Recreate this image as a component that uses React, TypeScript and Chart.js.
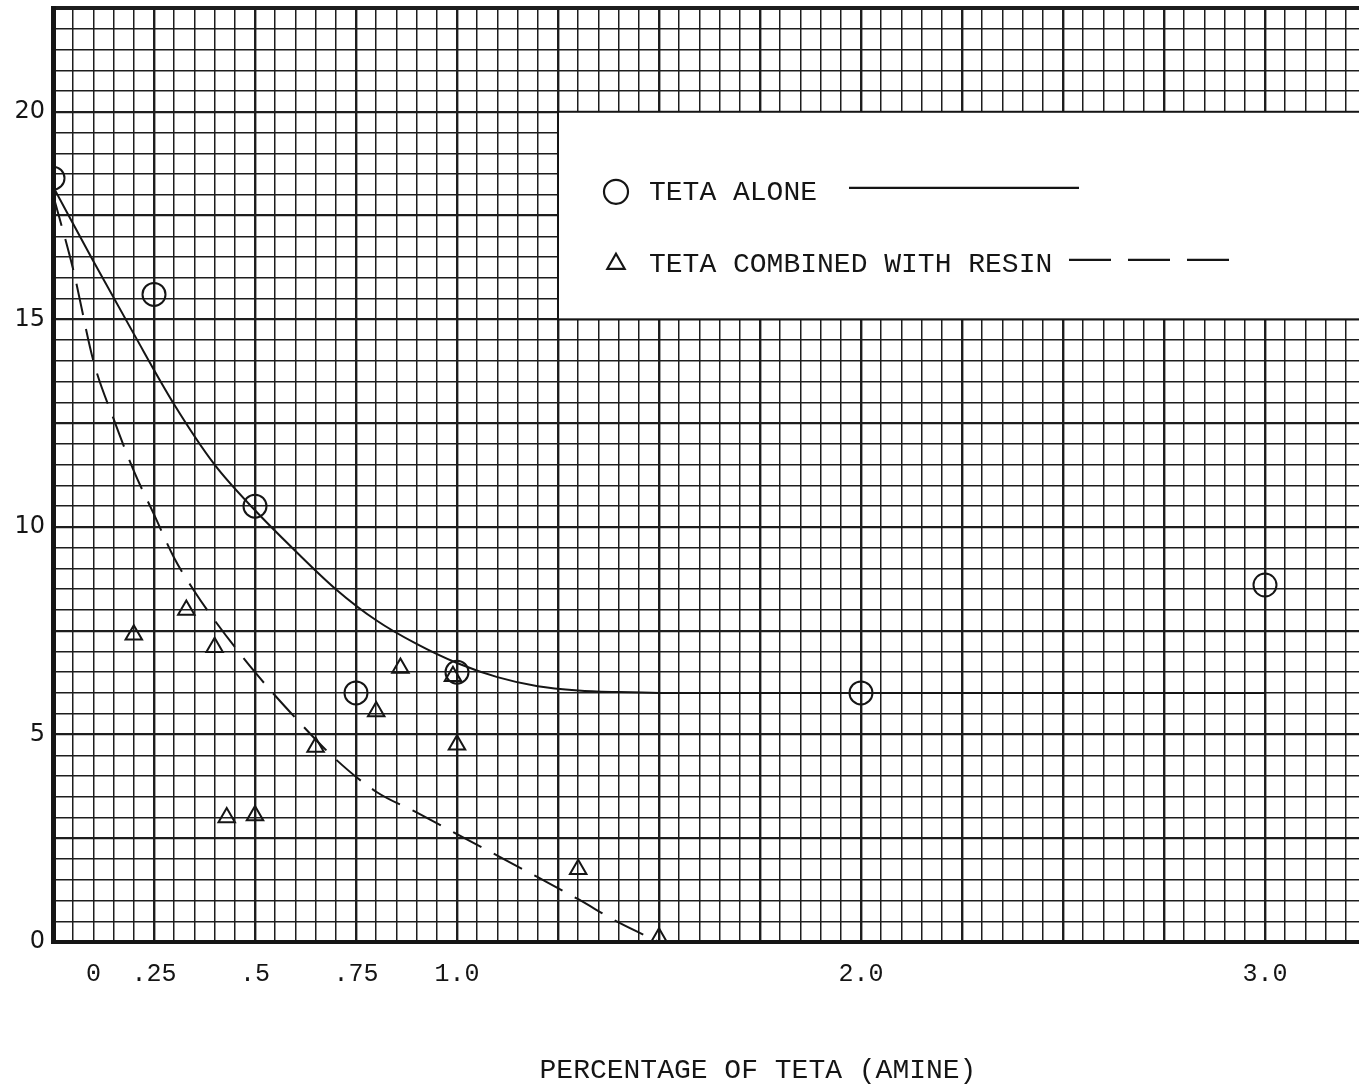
import React, { useEffect, useRef } from 'react';
import { Chart, registerables } from 'chart.js';

Chart.register(...registerables);

// ---------------- data ----------------
const SERIES_NAMES = ['TETA ALONE', 'TETA COMBINED WITH RESIN'];
const AXIS_TITLE = 'PERCENTAGE OF TETA (AMINE)';

// measured points: TETA alone (circles)
const aloneX = [0, 0.25, 0.5, 0.75, 1.0, 2.0, 3.0];
const aloneY = [18.4, 15.6, 10.5, 6.0, 6.5, 6.0, 8.6];

// measured points: TETA combined with resin (triangles)
const resinX = [0.2, 0.33, 0.4, 0.43, 0.5, 0.65, 0.8, 0.86, 0.99, 1.0, 1.3, 1.5];
const resinY = [7.4, 8.0, 7.1, 3.0, 3.05, 4.7, 5.55, 6.6, 6.4, 4.75, 1.75, 0.1];

// hand-drawn fitted curve: TETA alone (solid)
const aloneCurveX = [0, 0.1, 0.2, 0.3, 0.4, 0.5, 0.6, 0.7, 0.8, 0.9, 1.0, 1.1, 1.2, 1.3, 1.4, 1.5, 3.0];
const aloneCurveY = [18.2, 16.4, 14.65, 12.95, 11.5, 10.4, 9.42, 8.5, 7.75, 7.18, 6.72, 6.38, 6.16, 6.06, 6.02, 6.0, 6.0];

// hand-drawn fitted curve: TETA with resin (dashed)
const resinCurveX = [0, 0.05, 0.1, 0.15, 0.2, 0.25, 0.3, 0.35, 0.4, 0.5, 0.6, 0.7, 0.8, 0.9, 1.0, 1.1, 1.2, 1.3, 1.4, 1.5];
const resinCurveY = [18.0, 16.2, 14.0, 12.6, 11.35, 10.3, 9.25, 8.45, 7.75, 6.5, 5.4, 4.4, 3.62, 3.12, 2.6, 2.08, 1.56, 1.03, 0.47, 0.0];

// axis tick labels
const xTickValues = [0.1, 0.25, 0.5, 0.75, 1, 2, 3];
const xTickLabels = ['0', '.25', '.5', '.75', '1.0', '2.0', '3.0'];
const yTickValues = [0, 5, 10, 15, 20];
const yTickLabels = ['0', '5', '10', '15', '20'];

// ---------------- layout constants ----------------
const W = 1359;
const H = 1089;
const X_MAX = 3.2327;
const Y_MAX = 22.5;
const INK = '#151515';
const MONO = '"Liberation Mono", "DejaVu Sans Mono", monospace';

const near = (a: number, b: number) => Math.abs(a - b) < 1e-6;
const isMultiple = (v: number, step: number) => {
  const q = v / step;
  return Math.abs(q - Math.round(q)) < 1e-6;
};

const toXY = (xs: number[], ys: number[]) => xs.map((x, i) => ({ x, y: ys[i] }));

const zeroPad = (s: any) => {
  s.paddingTop = 0;
  s.paddingBottom = 0;
  s.paddingLeft = 0;
  s.paddingRight = 0;
};

const paperPlugin = {
  id: 'paperExtras',
  afterDatasetsDraw(chart: any) {
    const { ctx } = chart;
    const xs = chart.scales.x;
    const ys = chart.scales.y;
    const left = xs.getPixelForValue(1.25);
    const top = ys.getPixelForValue(20);
    const bottom = ys.getPixelForValue(15);
    const right = chart.width + 10;
    ctx.save();
    // legend box
    ctx.fillStyle = '#ffffff';
    ctx.fillRect(left, top, right - left, bottom - top);
    ctx.strokeStyle = INK;
    ctx.lineWidth = 2;
    ctx.strokeRect(left, top, right - left, bottom - top);

    const rows = [
      { dy: 80, marker: 'circle', lineFrom: 291, lineTo: 521, dash: [] as number[] },
      { dy: 152, marker: 'triangle', lineFrom: 511, lineTo: 683, dash: [42, 17] },
    ];
    ctx.font = `28px ${MONO}`;
    ctx.textBaseline = 'middle';
    ctx.textAlign = 'left';
    rows.forEach((r, i) => {
      const cy = top + r.dy;
      const mx = left + 58;
      ctx.strokeStyle = INK;
      ctx.lineWidth = 2.2;
      ctx.setLineDash([]);
      ctx.beginPath();
      if (r.marker === 'circle') {
        ctx.arc(mx, cy, 12, 0, Math.PI * 2);
      } else {
        const rr = 10;
        ctx.moveTo(mx, cy - rr);
        ctx.lineTo(mx + rr * 0.866, cy + rr / 2);
        ctx.lineTo(mx - rr * 0.866, cy + rr / 2);
        ctx.closePath();
      }
      ctx.stroke();
      ctx.fillStyle = INK;
      ctx.fillText(SERIES_NAMES[i], left + 91, cy + 1);
      ctx.lineWidth = 2.2;
      ctx.setLineDash(r.dash);
      ctx.beginPath();
      ctx.moveTo(left + r.lineFrom, cy - 4);
      ctx.lineTo(left + r.lineTo, cy - 4);
      ctx.stroke();
    });
    ctx.setLineDash([]);

    // axis title
    ctx.font = `28px ${MONO}`;
    ctx.textAlign = 'center';
    ctx.textBaseline = 'middle';
    ctx.fillStyle = INK;
    ctx.fillText(AXIS_TITLE, xs.getPixelForValue(1.745), 1071);
    ctx.restore();
  },
};

export default function App() {
  const ref = useRef<HTMLCanvasElement>(null);

  useEffect(() => {
    document.body.style.margin = '0';
    const canvas = ref.current;
    if (!canvas) return;
    const chart = new Chart(canvas, {
      type: 'scatter',
      data: {
        datasets: [
          {
            label: SERIES_NAMES[0] + ' curve',
            data: toXY(aloneCurveX, aloneCurveY),
            showLine: true,
            borderColor: INK,
            borderWidth: 2,
            pointRadius: 0,
            cubicInterpolationMode: 'monotone',
          },
          {
            label: SERIES_NAMES[1] + ' curve',
            data: toXY(resinCurveX, resinCurveY),
            showLine: true,
            borderColor: INK,
            borderWidth: 2,
            borderDash: [32, 14],
            pointRadius: 0,
            cubicInterpolationMode: 'monotone',
          },
          {
            label: SERIES_NAMES[0],
            data: toXY(aloneX, aloneY),
            showLine: false,
            clip: 0,
            pointStyle: 'circle',
            pointRadius: 11.5,
            pointBorderWidth: 2,
            pointBorderColor: INK,
            pointBackgroundColor: 'rgba(0,0,0,0)',
          },
          {
            label: SERIES_NAMES[1],
            data: toXY(resinX, resinY),
            showLine: false,
            clip: 0,
            pointStyle: 'triangle',
            pointRadius: 9.5,
            pointBorderWidth: 2,
            pointBorderColor: INK,
            pointBackgroundColor: 'rgba(0,0,0,0)',
          },
        ] as any,
      },
      options: {
        responsive: false,
        animation: false,
        events: [],
        layout: { autoPadding: false, padding: { top: 8, right: 0, left: 0, bottom: 0 } },
        plugins: {
          legend: { display: false },
          tooltip: { enabled: false },
        },
        scales: {
          x: {
            type: 'linear',
            min: 0,
            max: X_MAX,
            afterFit: (s: any) => {
              s.height = 147;
              zeroPad(s);
            },
            ticks: {
              stepSize: 0.05,
              includeBounds: false,
              autoSkip: false,
              maxRotation: 0,
              minRotation: 0,
              padding: 17,
              color: INK,
              font: { family: MONO, size: 25 },
              callback: (v: any) => {
                const i = xTickValues.findIndex((t) => near(t, Number(v)));
                return i >= 0 ? xTickLabels[i] : '';
              },
            },
            grid: {
              drawTicks: false,
              color: '#1d1d1d',
              lineWidth: (c: any) => {
                const v = c.tick ? c.tick.value : null;
                if (v == null) return 0;
                if (near(v, 0)) return 5;
                if (!isMultiple(v, 0.05)) return 0;
                return isMultiple(v, 0.25) ? 2.4 : 1.5;
              },
            },
            border: { display: true, width: 4, color: INK },
          },
          y: {
            type: 'linear',
            min: 0,
            max: Y_MAX,
            afterFit: (s: any) => {
              s.width = 53;
              zeroPad(s);
            },
            ticks: {
              stepSize: 0.5,
              autoSkip: false,
              padding: 8,
              color: INK,
              font: { family: '"DejaVu Sans", sans-serif', size: 24 },
              callback: (v: any) => {
                const i = yTickValues.findIndex((t) => near(t, Number(v)));
                return i >= 0 ? yTickLabels[i] : '';
              },
            },
            grid: {
              drawTicks: false,
              color: '#1d1d1d',
              lineWidth: (c: any) => {
                const v = c.tick ? c.tick.value : null;
                if (v == null) return 0;
                if (near(v, 0) || near(v, Y_MAX)) return 4;
                return isMultiple(v, 2.5) ? 2.2 : 1.4;
              },
            },
            border: { display: true, width: 5, color: INK },
          },
        },
      } as any,
      plugins: [paperPlugin],
    });
    return () => chart.destroy();
  }, []);

  return (
    <div style={{ width: W, height: H, background: '#ffffff' }}>
      <canvas ref={ref} width={W} height={H} style={{ display: 'block' }} />
    </div>
  );
}
